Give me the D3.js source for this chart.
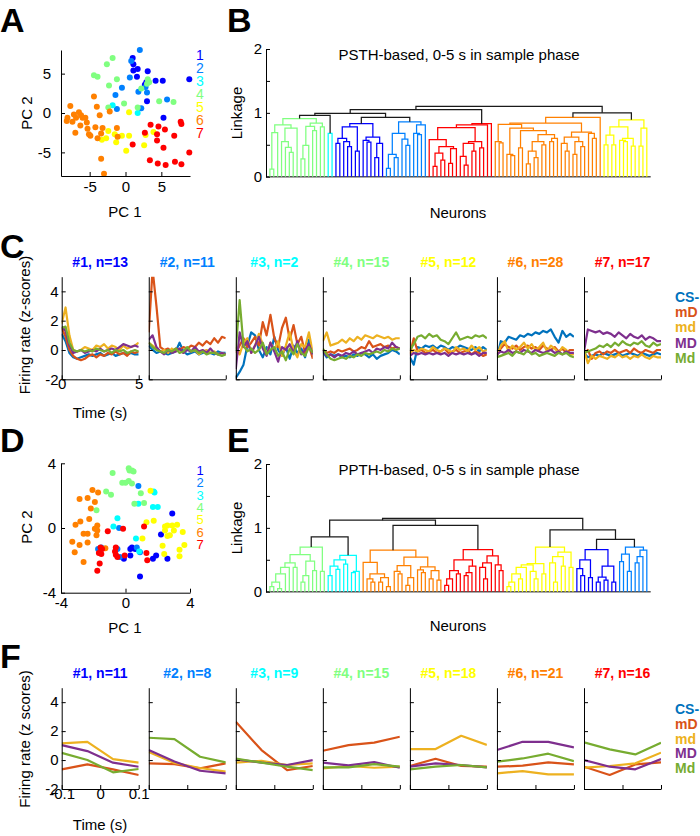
<!DOCTYPE html>
<html><head><meta charset="utf-8">
<script src="https://cdn.jsdelivr.net/npm/d3@7"></script>
<style>body{margin:0;background:#fff}svg{display:block}</style>
</head><body>
<svg id="c" width="700" height="836"></svg>
<script>
// ---------------- DATA ----------------
const clusterLabels = ["1","2","3","4","5","6","7"];
// Panel A: PSTH-based PCA scores [PC1, PC2] per cluster
const A_clu1 = [[1.0,7.0],[1.1,6.2],[1.7,5.6],[1.1,5.4],[1.6,4.6],[3.1,5.3],[2.9,3.9],[4.2,4.1],[5.2,4.1],[3.0,1.5],[5.3,-0.6],[8.9,4.3],[2.7,3.6]];
const A_clu2 = [[2.0,8.0],[0.8,6.6],[0.6,4.5],[-0.5,3.2],[-1.4,2.3],[-1.2,0.5],[1.8,2.7],[3.0,2.6],[2.8,3.3],[2.2,0.6],[5.8,1.7]];
const A_clu3 = [[-1.8,1.0],[1.7,0.0]];
const A_clu4 = [[-2.6,6.2],[-1.8,7.0],[-4.4,4.8],[-3.9,4.6],[-1.2,4.3],[-2.3,3.5],[-0.2,1.2],[1.7,0.7],[2.2,3.1],[3.1,4.3],[3.3,3.9],[3.0,3.7],[4.7,1.5],[6.7,1.4],[-2.4,0.7]];
const A_clu5 = [[0.5,0.1],[-2.4,-2.3],[-3.3,-3.4],[-2.7,-3.2],[-1.5,-2.7],[-1.3,-3.7],[-0.5,-2.9],[0.5,-2.9],[0.1,-4.8],[2.6,-4.1],[2.8,-2.8],[3.9,-2.4]];
const A_clu6 = [[-7.7,0.9],[-6.5,0.1],[-6.2,-0.3],[-5.6,-0.6],[-7.2,-0.2],[-8.1,-0.6],[-8.2,-1.0],[-7.4,-1.1],[-6.9,-0.6],[-6.3,-1.6],[-7.0,-2.5],[-5.3,-2.0],[-5.1,-2.7],[-4.9,-2.9],[-4.2,-1.8],[-3.6,-0.3],[-4.0,0.8],[-4.4,2.1],[-3.2,-1.9],[-3.4,-2.6],[-3.9,-3.2],[-2.2,0.2],[-1.2,-1.9],[-1.1,-3.0],[-3.4,-5.8],[-3.0,-7.7],[-6.0,-0.6],[-5.4,-1.2]];
const A_clu7 = [[1.0,-4.0],[3.5,-1.5],[2.7,-2.5],[4.6,-1.7],[5.5,-2.1],[4.4,-2.7],[7.7,-1.1],[7.8,-1.4],[4.4,-3.5],[5.3,-4.4],[6.8,-2.9],[3.4,-6.0],[4.5,-6.4],[5.6,-6.6],[6.9,-6.2],[7.8,-6.5],[8.9,-5.0]];
const A_ticks = [-5,0,5];

// Panel D: PPTH-based PCA scores
const D_clu1 = [[2.9,0.9],[2.2,-0.4],[2.6,-1.9],[1.9,-1.7],[1.7,-1.9],[0.9,-3.0],[0.3,-1.7],[-0.1,-1.9],[0.4,-1.2],[0.6,-1.3],[0.3,-1.3]];
const D_clu2 = [[0.8,2.6],[-0.4,0.0],[-0.5,-1.3],[-0.35,-1.8],[0.9,-1.5],[0.7,-1.2],[-1.7,-1.3],[-1.5,-1.2]];
const D_clu3 = [[0.8,1.5],[1.8,2.2],[1.7,1.3],[2.0,1.3],[-0.5,0.6],[-0.75,0.1],[0.65,-0.65],[0.85,-1.45],[1.75,2.25]];
const D_clu4 = [[-0.8,3.4],[0.2,3.7],[0.25,3.55],[0.4,3.55],[0.5,3.5],[-0.2,2.8],[0.0,2.8],[0.2,2.9],[0.4,2.75],[-1.2,2.25],[-0.9,2.05],[-1.8,1.1],[0.55,1.5],[1.15,1.55],[0.95,2.15]];
const D_clu5 = [[1.55,2.3],[1.75,0.45],[1.3,0.35],[1.05,-0.65],[2.45,0.1],[2.6,0.15],[2.9,0.15],[3.2,0.2],[3.55,-0.25],[2.45,-0.15],[2.6,-0.5],[2.75,-0.45],[2.4,-1.6],[3.35,-1.35],[3.35,-1.75],[3.65,-1.05],[2.3,-1.1],[3.0,-0.15]];
const D_clu6 = [[-2.05,2.35],[-1.7,2.2],[-2.85,1.8],[-2.35,1.85],[-1.9,1.6],[-2.15,1.2],[-2.25,0.55],[-2.8,0.4],[-3.1,0.2],[-1.9,-0.05],[-1.75,-0.15],[-1.8,-0.45],[-2.6,-0.35],[-2.35,-0.35],[-3.3,-0.85],[-2.85,-1.05],[-3.15,-1.5],[-2.35,-0.9],[-2.6,-2.1],[-1.25,-1.25],[-1.75,0.15]];
const D_clu7 = [[-1.1,-0.2],[-0.15,-0.05],[1.15,0.1],[-1.55,-1.2],[-1.45,-1.3],[-0.6,-1.2],[-0.65,-1.45],[-0.6,-1.65],[-0.5,-1.8],[-0.05,-1.7],[-1.65,-1.55],[-1.5,-1.6],[-1.75,-2.65],[1.3,-1.55],[1.35,-2.0],[-1.6,-2.2]];
const D_ticks = [-4,0,4];

// Dendrograms: internal node = [linkage, left, right], leaf = 0, cluster = key
const B_g = [0.91,[0.81,[0.69,[0.12,0,0],0],[0.76,[0.55,0,[0.46,0,[0.38,0,0]]],0]],[0.84,[0.79,[0.49,[0.28,0,0],0],[0.72,0,0]],[0.78,0,0]]];
const B_c = [0.68,0,0];
const B_b = [0.83,[0.78,[0.60,[0.52,0,0],[0.55,0,[0.47,0,0]]],[0.40,0,0]],[0.62,[0.57,0,[0.54,0,0]],[0.52,[0.30,0,0],0]]];
const B_lb = [0.86,[0.68,[0.35,[0.13,0,0],[0.30,0,0]],[0.59,0,[0.49,0,0]]],[0.81,[0.68,0,[0.66,0,0]],0]];
const B_r = [0.83,[0.81,[0.77,[0.58,0,[0.47,[0.37,[0.16,0,0],[0.26,0,0]],[0.44,[0.21,0,0],0]]],[0.55,[0.52,[0.32,0,[0.18,0,0]],[0.40,0,0]],[0.45,0,0]]],0],0];
const B_o = [0.93,[0.84,[0.82,[0.55,0,[0.53,0,0]],[0.76,[0.35,0,[0.33,0,0]],[0.72,[0.45,0,0],[0.66,[0.55,[0.40,[0.20,0,0],[0.30,0,0]],[0.50,0,0]],[0.60,[0.55,0,0],0]]]]],[0.70,[0.62,[0.52,0,[0.40,0,0]],[0.55,[0.35,0,0],[0.47,0,0]]],[0.68,0,[0.60,0,0]]]],0];
const B_y = [0.89,[0.78,[0.65,[0.50,0,0],[0.50,0,0]],[0.60,[0.57,0,[0.55,0,0]],[0.48,0,0]]],[0.76,[0.48,0,0],0]];
const B_top = [1.10,[1.05,[0.99,[0.96,"g","c"],[0.93,"b","lb"]],"r"],[1.00,"o","y"]];

const E_g = [0.70,[0.58,[0.45,[0.38,[0.28,[0.15,[0.08,0,0],[0.05,0,0]],0],0],[0.38,0,0]],[0.48,[0.25,[0.15,0,0],0],[0.33,0,0]]],[0.32,0,0]];
const E_c = [0.57,[0.50,[0.40,[0.25,0,0],[0.35,0,0]],[0.43,0,0]],[0.32,[0.30,0,0],0]];
const E_o = [0.65,[0.46,0,[0.28,[0.20,0,[0.15,0,0]],[0.22,[0.15,0,0],[0.08,0,0]]]],[0.54,[0.41,[0.32,0,[0.28,0,0]],[0.22,[0.10,0,0],0]],[0.39,[0.34,0,[0.30,0,0]],[0.33,[0.20,0,0],[0.18,0,0]]]]];
const E_r = [0.66,[0.50,[0.33,[0.20,[0.10,0,0],0],[0.28,0,0]],[0.40,[0.30,[0.25,0,0],0],0]],[0.56,[0.45,[0.38,0,[0.20,0,0]],0],[0.42,0,[0.33,0,0]]]];
const E_y = [0.70,[0.44,[0.42,[0.38,[0.28,[0.15,[0.08,0,0],0],[0.20,0,0]],0],[0.32,0,[0.20,0,0]]],[0.28,0,0]],[0.62,[0.55,[0.45,0,[0.15,0,0]],[0.40,0,0]],[0.38,0,0]]];
const E_b = [0.66,[0.50,[0.36,0,[0.25,0,0]],[0.22,0,0]],[0.40,[0.23,[0.15,0,0],[0.18,0,0]],[0.15,0,0]]];
const E_lb = [0.70,[0.59,[0.47,0,0],[0.32,0,0]],[0.65,[0.55,[0.45,0,0],0],0]];
const E_top = [1.15,[1.12,[0.86,"g","c"],[1.04,"o","r"]],[0.97,"y",[0.82,"b","lb"]]];
const linkTicks = [0,0.5,1,1.5,2];

// Panel C: mean z-scored firing rate per cluster (7 panels), time 0-5 s
const C_time = [0,0.25,0.5,0.75,1,1.25,1.5,1.75,2,2.25,2.5,2.75,3,3.25,3.5,3.75,4,4.25,4.5,4.75,5];
const C_titles = ["#1, n=13","#2, n=11","#3, n=2","#4, n=15","#5, n=12","#6, n=28","#7, n=17"];
const C_CS = [
 [1.1,0.6,-0.2,-0.5,-0.6,-0.5,-0.4,-0.3,-0.4,-0.3,-0.2,-0.4,-0.3,-0.2,-0.4,-0.3,-0.2,-0.3,-0.2,-0.3,-0.3],
 [0.3,0.0,-0.2,-0.1,-0.2,-0.3,-0.2,-0.1,0.5,-0.1,-0.3,-0.2,-0.1,-0.3,-0.2,-0.1,-0.2,-0.3,-0.1,-0.2,-0.2],
 [-1.9,-1.5,-1.0,0.3,1.2,1.0,0.0,-0.5,0.2,-0.3,0.9,0.0,-0.4,0.2,-0.6,0.3,-0.2,0.1,-0.5,0.7,-0.3],
 [-0.1,-0.5,-0.3,-0.4,-0.3,-0.5,-0.4,-0.5,-0.3,-0.4,-0.2,-0.3,-0.5,-0.3,-0.6,-0.4,-0.3,-0.2,0.0,-0.1,-0.3],
 [-0.5,-1.0,0.2,0.1,0.3,0.2,0.3,0.1,0.3,0.2,0.0,0.2,0.1,0.3,0.2,0.1,0.0,0.2,-0.1,0.2,0.0],
 [-0.5,0.6,0.5,0.9,0.8,0.7,1.0,0.9,1.1,1.0,1.2,1.1,1.3,1.2,1.4,0.9,0.5,1.3,0.9,1.1,0.9],
 [-0.2,-0.5,-0.4,-0.3,-0.4,-0.2,-0.3,-0.4,-0.3,-0.2,-0.4,-0.3,-0.2,-0.3,-0.4,-0.2,-0.3,-0.4,-0.3,-0.2,-0.3]];
const C_mD = [
 [1.5,0.9,0.0,-0.4,-0.6,-0.7,-0.6,-0.4,-0.3,-0.5,-0.3,-0.4,-0.2,-0.3,-0.1,-0.3,-0.2,-0.4,-0.1,-0.2,-0.1],
 [1.2,5.5,3.0,0.2,0.0,0.1,-0.1,0.1,0.0,0.2,0.1,0.3,0.2,0.5,0.3,0.6,0.4,0.8,0.5,0.9,0.8],
 [-0.2,0.3,0.8,0.2,0.5,0.9,0.3,1.9,1.0,2.4,0.8,0.2,1.5,2.2,0.7,1.7,0.4,0.9,-0.2,0.3,-0.6],
 [0.0,-0.2,-0.1,-0.2,0.0,-0.1,0.0,0.1,-0.1,0.0,0.2,0.1,0.6,0.2,0.3,0.4,0.2,0.3,0.1,0.2,0.1],
 [-0.3,0.8,-0.1,0.0,-0.2,-0.1,0.0,-0.2,-0.1,0.1,-0.2,-0.1,0.0,-0.2,-0.1,0.0,-0.3,-0.1,-0.2,-0.4,-0.3],
 [-0.3,0.1,0.4,0.2,0.1,0.3,0.0,0.2,0.3,0.1,0.2,0.0,0.3,0.1,0.0,0.2,-0.1,0.1,-0.2,0.0,0.0],
 [-0.3,0.0,-0.6,-0.2,-0.1,-0.3,-0.1,-0.2,0.0,-0.2,-0.1,0.0,-0.2,0.1,-0.1,-0.2,0.0,-0.1,-0.2,0.0,0.0]];
const C_md = [
 [1.8,2.9,1.0,0.0,-0.1,0.0,0.2,0.1,0.0,0.3,0.2,0.4,0.1,0.3,0.2,0.0,0.3,0.1,0.2,0.3,0.5],
 [0.5,0.3,0.1,-0.1,0.0,-0.2,0.1,-0.1,0.0,-0.2,0.1,-0.1,0.0,-0.3,-0.1,0.0,-0.2,-0.1,-0.3,-0.2,-0.3],
 [0.2,-0.3,0.5,0.8,-0.2,0.3,1.1,0.4,-0.3,0.5,0.0,0.6,-0.4,0.3,1.2,0.0,-0.5,0.4,0.2,1.2,-0.2],
 [0.6,1.2,0.3,0.4,0.5,0.7,0.5,0.8,0.6,0.9,0.7,1.0,0.9,0.8,1.0,0.9,0.8,0.9,0.7,0.8,0.8],
 [-0.2,0.0,-0.1,0.1,0.0,-0.1,0.2,0.0,-0.1,0.1,0.0,-0.2,0.2,0.0,0.1,-0.1,0.3,0.0,0.2,-0.1,0.0],
 [-0.4,0.3,0.6,-0.1,0.3,0.0,0.2,0.5,0.1,0.4,0.0,0.2,0.5,-0.1,0.3,0.1,-0.2,0.2,0.0,-0.3,-0.3],
 [0.0,-0.9,-0.4,-0.6,-0.4,-0.5,-0.6,-0.4,-0.5,-0.3,-0.5,-0.4,-0.6,-0.4,-0.5,-0.3,-0.5,-0.6,-0.4,-0.5,-0.5]];
const C_MD = [
 [1.6,1.3,0.3,-0.2,-0.1,0.0,-0.2,-0.1,0.0,-0.1,0.1,-0.1,0.0,0.1,0.0,0.2,0.4,0.3,0.2,0.3,0.2],
 [0.7,1.0,0.2,-0.1,-0.3,0.0,-0.2,-0.1,0.1,-0.2,0.0,-0.1,0.2,-0.1,0.0,-0.2,0.1,-0.2,-0.3,-0.2,-0.3],
 [-1.3,1.2,0.2,0.6,-0.2,0.3,0.9,0.1,-0.4,0.5,-0.1,-0.8,0.2,0.0,0.4,-0.2,0.6,-0.3,0.0,0.4,-0.3],
 [0.0,-0.4,-0.3,-0.5,-0.3,-0.4,-0.2,-0.3,-0.1,-0.3,-0.2,-0.1,0.0,-0.2,0.1,0.0,0.2,0.1,0.5,0.2,0.1],
 [-0.4,-0.2,-0.3,-0.2,-0.3,-0.2,-0.3,-0.2,-0.3,-0.2,-0.4,-0.2,-0.3,-0.2,-0.3,-0.2,-0.3,-0.2,-0.4,-0.2,-0.2],
 [-0.3,-0.1,-0.2,0.0,-0.2,-0.1,-0.2,0.0,-0.1,-0.2,0.0,-0.1,-0.2,-0.1,0.0,-0.2,-0.1,-0.3,-0.1,-0.2,-0.2],
 [-0.1,1.4,1.3,1.2,1.3,1.1,1.2,1.1,0.9,1.2,1.0,0.8,1.1,0.9,0.8,1.0,0.7,0.9,0.8,0.6,0.6]];
const C_Md = [
 [1.5,1.6,0.5,0.0,-0.1,0.0,-0.1,0.0,-0.1,0.1,0.0,-0.1,0.0,-0.2,0.0,-0.1,0.0,-0.2,-0.1,0.0,-0.1],
 [0.5,0.2,0.0,-0.1,-0.2,0.0,-0.1,0.1,-0.2,-0.1,0.2,-0.1,0.0,-0.2,-0.1,-0.3,-0.2,-0.2,-0.3,-0.4,-0.3],
 [0.0,3.4,0.3,-0.1,0.1,-0.2,0.0,0.5,-0.3,0.0,0.2,-0.4,-0.1,-0.7,0.1,-0.3,0.4,-0.2,-0.4,0.2,-0.2],
 [0.1,-0.3,-0.6,-0.7,-0.6,-0.5,-0.6,-0.4,-0.5,-0.3,-0.4,-0.2,-0.3,-0.2,-0.1,-0.2,0.0,-0.1,0.1,0.0,0.1],
 [0.0,0.4,0.9,1.0,0.8,1.1,0.9,1.0,0.7,0.6,0.4,0.8,1.2,0.7,0.8,0.9,0.8,1.0,0.9,1.0,0.8],
 [-0.5,-0.4,-0.3,-0.2,-0.4,-0.1,-0.2,-0.3,0.0,-0.3,-0.2,-0.4,-0.3,-0.2,-0.3,-0.4,-0.2,-0.3,-0.2,-0.4,-0.5],
 [-0.2,-0.1,0.0,0.1,0.3,0.2,0.4,0.2,0.5,0.3,0.6,0.4,0.3,0.5,0.4,0.6,0.3,0.2,0.5,0.3,0.4]];
const C_xTicks = [0,5];
const zTicks = [-2,0,2,4];

// Panel F: 4 time bins from -0.1 to 0.1 s
const F_time = [-0.1,-0.0333,0.0333,0.1];
const F_titles = ["#1, n=11","#2, n=8","#3, n=9","#4, n=15","#5, n=18","#6, n=21","#7, n=16"];
const F_mD = [[-0.64,-0.3,-0.64,-1.03],[-0.23,-0.28,-0.57,-0.23],[2.64,0.69,-0.69,-0.41],[0.64,1.03,1.2,1.61],[-0.41,0.09,-0.41,-0.46],[-0.46,-0.39,-0.16,-0.3],[-0.46,-1.03,-0.3,-0.16]];
const F_md = [[1.15,1.26,0.07,-0.18],[0.55,-0.2,-0.55,-0.8],[-0.18,-0.05,-0.34,-0.23],[-0.57,-0.41,-0.53,-0.46],[0.76,0.76,1.68,1.05],[-0.92,-0.76,-0.99,-0.99],[-0.53,-0.41,-0.23,0.51]];
const F_MD = [[1.03,0.62,-0.18,-0.46],[0.69,-0.1,-0.74,-0.92],[0.05,-0.18,-0.34,0.0],[-0.18,-0.37,-0.14,-0.53],[-0.46,-0.23,-0.34,-0.5],[0.69,1.26,1.26,0.87],[0.0,-0.46,-0.64,0.07]];
const F_Md = [[0.5,0.0,-0.85,-0.62],[1.54,1.45,0.23,-0.16],[0.11,-0.18,-0.46,-0.69],[-0.5,-0.5,-0.28,-0.46],[-0.64,-0.46,-0.34,-0.5],[-0.11,0.11,0.44,-0.07],[1.22,0.74,0.39,1.2]];
const F_xTicks = [-0.1,0,0.1];
const condNames = ["CS-","mD","md","MD","Md"];

// ---------------- STYLE ----------------
const FONT = "'Liberation Sans', Arial, Helvetica, sans-serif";
const TICK_SIZE = 15;
const jet = ["#0000ff","#0080ff","#00ffff","#80ff80","#ffff00","#ff8000","#ff0000"];
const keyColor = {b:jet[0], lb:jet[1], c:jet[2], g:jet[3], y:jet[4], o:jet[5], r:jet[6]};
const condColors = ["#0072BD","#D95319","#EDB120","#7E2F8E","#77AC30"];

const svg = d3.select("#c");

function text(x, y, s, o = {}) {
  const t = svg.append("text").attr("x", x).attr("y", y).text(s)
    .attr("font-family", FONT).attr("font-size", o.size || 15)
    .attr("font-weight", o.bold ? "bold" : "normal")
    .attr("fill", o.color || "#000")
    .attr("text-anchor", o.anchor || "middle");
  if (o.rotate) t.attr("transform", `rotate(-90,${x},${y})`);
  return t;
}

function styleAxis(ag) {
  ag.attr("font-family", null).attr("font-size", null);
  ag.selectAll("text").attr("font-family", FONT).attr("font-size", TICK_SIZE).attr("fill", "#000");
  ag.select(".domain").attr("stroke", "#000");
  ag.selectAll(".tick line").attr("stroke", "#000");
}
function leftAxis(g, scale, x0, ticks, fmt, pad) {
  const ag = g.append("g").attr("transform", `translate(${x0},0)`)
    .call(d3.axisLeft(scale).tickValues(ticks).tickSize(-4).tickSizeOuter(0).tickPadding(pad).tickFormat(fmt));
  styleAxis(ag);
  return ag;
}
function bottomAxis(g, scale, y0, ticks, fmt, base) {
  const ag = g.append("g").attr("transform", `translate(0,${y0})`)
    .call(d3.axisBottom(scale).tickValues(ticks).tickSize(-4).tickSizeOuter(0).tickFormat(fmt));
  styleAxis(ag);
  ag.selectAll("text").attr("y", base).attr("dy", 0);
  return ag;
}
const numFmt = d => String(d);
const noFmt = () => "";

// ---------------- SCATTER (A, D) ----------------
function scatter(groups, xd, yd, ticks, box, lblPad, xBase, legendY, legendStep, legendSize) {
  const g = svg.append("g");
  const x = d3.scaleLinear().domain(xd).range([box.l, box.r]);
  const y = d3.scaleLinear().domain(yd).range([box.b, box.t]);
  groups.forEach((pts, k) => {
    g.append("g").selectAll("circle").data(pts).join("circle")
      .attr("cx", d => x(d[0])).attr("cy", d => y(d[1])).attr("r", 3).attr("fill", jet[k]);
  });
  leftAxis(g, y, box.l, ticks, numFmt, lblPad);
  bottomAxis(g, x, box.b, ticks, numFmt, xBase);
  clusterLabels.forEach((s, k) => text(200, legendY + k * legendStep, s, {size: legendSize, color: jet[k]}));
}
scatter([A_clu1,A_clu2,A_clu3,A_clu4,A_clu5,A_clu6,A_clu7], [-9,9], [-8,8], A_ticks,
        {l:61, r:190, t:50, b:176}, 10, 16, 60, 13.05, 14);
scatter([D_clu1,D_clu2,D_clu3,D_clu4,D_clu5,D_clu6,D_clu7], [-4,4], [-4,4], D_ticks,
        {l:61, r:190, t:463.3, b:592.7}, 5, 15, 475, 12.3, 13);
text(27, 113, "PC 2", {rotate: true}).attr("dy", "0.35em");
text(125, 217, "PC 1");
text(27, 527, "PC 2", {rotate: true}).attr("dy", "0.35em");
text(125, 633, "PC 1");

// ---------------- DENDROGRAMS (B, E) ----------------
function dendro(top, trees, box) {
  const g = svg.append("g");
  const x = d3.scaleLinear().domain([0, 99]).range([box.l, box.r]);
  const y = d3.scaleLinear().domain([0, 2]).range([box.b, box.t]);
  let idx = 0;
  const segs = [];
  function walk(node, col) {
    if (typeof node === "string") return walk(trees[node], keyColor[node]);
    if (node === 0) { idx += 1; return {x: idx, h: 0}; }
    const L = walk(node[1], col), R = walk(node[2], col);
    segs.push({a: L, b: R, h: node[0], c: col || "#1a1a1a"});
    return {x: (L.x + R.x) / 2, h: node[0]};
  }
  walk(top, null);
  g.append("line").attr("x1", box.l).attr("x2", box.r).attr("y1", y(0)).attr("y2", y(0))
    .attr("stroke", "#555").attr("stroke-width", 1.6);
  g.selectAll(null).data(segs).join("path")
    .attr("d", s => `M${x(s.a.x)},${y(s.a.h)}V${y(s.h)}H${x(s.b.x)}V${y(s.b.h)}`)
    .attr("fill", "none").attr("stroke", s => s.c).attr("stroke-width", 1.25);
  leftAxis(g, y, box.l, linkTicks, d => Number.isInteger(d) ? String(d) : "", 4);
}
dendro(B_top, {g:B_g, c:B_c, b:B_b, lb:B_lb, r:B_r, o:B_o, y:B_y}, {l:266, r:650.7, t:49, b:176.7});
dendro(E_top, {g:E_g, c:E_c, b:E_b, lb:E_lb, r:E_r, o:E_o, y:E_y}, {l:266, r:650.7, t:464, b:591.7});
text(459, 60, "PSTH-based, 0-5 s in sample phase");
text(459, 475, "PPTH-based, 0-5 s in sample phase");
text(458, 218, "Neurons");
text(458, 631, "Neurons");
text(237, 113, "Linkage", {rotate: true}).attr("dy", "0.35em");
text(237, 528, "Linkage", {rotate: true}).attr("dy", "0.35em");

// ---------------- LINE PANELS (C, F) ----------------
function linePanels(series, times, xd, xTicks, titles, box, titleY, xBase, id) {
  const step = 87.05, w = 77;
  titles.forEach((title, i) => {
    const L = box.l + i * step;
    const g = svg.append("g");
    const x = d3.scaleLinear().domain(xd).range([L, L + w]);
    const y = d3.scaleLinear().domain([-2, 5]).range([box.b, box.t]);
    const cid = `clip${id}${i}`;
    g.append("clipPath").attr("id", cid).append("rect")
      .attr("x", L).attr("y", box.t).attr("width", w).attr("height", box.b - box.t);
    const line = d3.line().x((d, j) => x(times[j])).y(d => y(d));
    series.forEach(s => {
      if (!s.data) return;
      g.append("path").attr("d", line(s.data[i])).attr("clip-path", `url(#${cid})`)
        .attr("fill", "none").attr("stroke", s.color).attr("stroke-width", 2.2)
        .attr("stroke-linejoin", "round");
    });
    leftAxis(g, y, L, zTicks, i === 0 ? numFmt : noFmt, 3);
    bottomAxis(g, x, box.b, xTicks, i === 0 ? numFmt : noFmt, xBase);
    text(L + w / 2, titleY, title, {bold: true, size: 14, color: jet[i]});
  });
}
linePanels([{data:C_CS,color:condColors[0]},{data:C_mD,color:condColors[1]},{data:C_md,color:condColors[2]},
            {data:C_MD,color:condColors[3]},{data:C_Md,color:condColors[4]}],
           C_time, [0,5], C_xTicks, C_titles, {l:61.7, t:276.7, b:379.3}, 267, 10, "C");
linePanels([{data:null,color:condColors[0]},{data:F_mD,color:condColors[1]},{data:F_md,color:condColors[2]},
            {data:F_MD,color:condColors[3]},{data:F_Md,color:condColors[4]}],
           F_time, [-0.1,0.1], F_xTicks, F_titles, {l:61.7, t:687.7, b:789}, 678, 10, "F");
condNames.forEach((s, k) => {
  text(675, 302 + k * 15.2, s, {bold: true, size: 14, color: condColors[k], anchor: "start"});
  text(675, 714 + k * 14.75, s, {bold: true, size: 14, color: condColors[k], anchor: "start"});
});
text(100, 418, "Time (s)");
text(100, 830, "Time (s)");
text(25, 325, "Firing rate (z-scores)", {rotate: true}).attr("dy", "0.35em");
text(25, 739, "Firing rate (z scores)", {rotate: true}).attr("dy", "0.35em");

// ---------------- PANEL LETTERS ----------------
[["A",0,32],["B",227,32],["C",0,258],["D",0,452],["E",227,452],["F",0,668]].forEach(([s,x,y]) =>
  text(x, y, s, {bold: true, size: 34, anchor: "start"}));
</script>
</body></html>
